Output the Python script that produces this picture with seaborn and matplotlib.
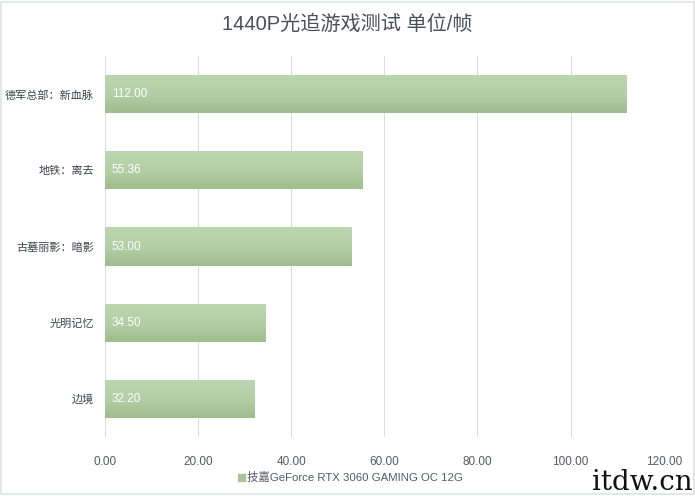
import numpy as np
import pandas as pd
import matplotlib
matplotlib.use("Agg")
import matplotlib.pyplot as plt
from matplotlib.colors import LinearSegmentedColormap
from matplotlib.ticker import FormatStrFormatter
import seaborn as sns

games = ["德军总部：新血脉", "地铁：离去", "古墓丽影：暗影", "光明记忆", "边境"]
fps = [112.00, 55.36, 53.00, 34.50, 32.20]
series_name = "技嘉GeForce RTX 3060 GAMING OC 12G"
title = "1440P光追游戏测试 单位/帧"

df = pd.DataFrame({"game": games, "fps": fps})

sns.set_theme(style="white")
plt.rcParams["font.family"] = ["Liberation Sans", "Noto Sans CJK SC", "DejaVu Sans"]

fig = plt.figure(figsize=(6.95, 4.96), dpi=100)
ax = fig.add_axes([0.151, 0.119, 0.804, 0.768])

bar_color = "#b2cda3"
sns.barplot(data=df, x="fps", y="game", color=bar_color, width=0.5,
            saturation=1, ax=ax, zorder=3)

# vertical gradient on each bar, lighter at top, darker at bottom
cmap = LinearSegmentedColormap.from_list("g", ["#bcd6b0", "#b4cfa6", "#9fbd8f"])
grad = np.linspace(0, 1, 64).reshape(-1, 1)
for p in ax.patches:
    x0, y0 = p.get_x(), p.get_y()
    w, h = p.get_width(), p.get_height()
    im = ax.imshow(grad, cmap=cmap, aspect="auto",
                   extent=[x0, x0 + w, y0 + h, y0], zorder=4)
    im.set_clip_path(p)
    p.set_edgecolor("none")

for i, v in enumerate(fps):
    ax.text(1.5, i, f"{v:.2f}", color="white", fontsize=8.5,
            va="center", ha="left", zorder=5)

ax.set_xlim(0, 120)
ax.set_ylim(4.5, -0.5)
ax.set_xticks(np.arange(0, 121, 20))
ax.xaxis.set_major_formatter(FormatStrFormatter("%.2f"))
ax.grid(axis="x", color="#dddddd", linewidth=0.8, zorder=0)
ax.grid(axis="y", visible=False)
for s in ax.spines.values():
    s.set_visible(False)
ax.tick_params(axis="x", length=0, pad=14, labelsize=8.5, colors="#555a63")
ax.tick_params(axis="y", length=0, pad=8, labelsize=8, colors="#3e434c")
ax.set_xlabel("")
ax.set_ylabel("")

fig.text(0.5, 0.95, title, ha="center", va="center", fontsize=14.5,
         color="#4a4f5a")

# legend
fig.patches.append(plt.Rectangle((0.342, 0.030), 0.010, 0.015,
                                 transform=fig.transFigure,
                                 color="#a9c49b"))
fig.text(0.355, 0.037, series_name, ha="left", va="center",
         fontsize=8.2, color="#555a63")

# watermark
fig.text(0.996, 0.012, "itdw.cn", ha="right", va="baseline", fontsize=20,
         family="DejaVu Serif", color="#111111")

# thin frame around the picture
fig.patches.append(plt.Rectangle((0.002, 0.004), 0.996, 0.992,
                                 transform=fig.transFigure, fill=False,
                                 edgecolor="#dfe3e6", linewidth=1.2))

fig.savefig("out.png", dpi=100)
